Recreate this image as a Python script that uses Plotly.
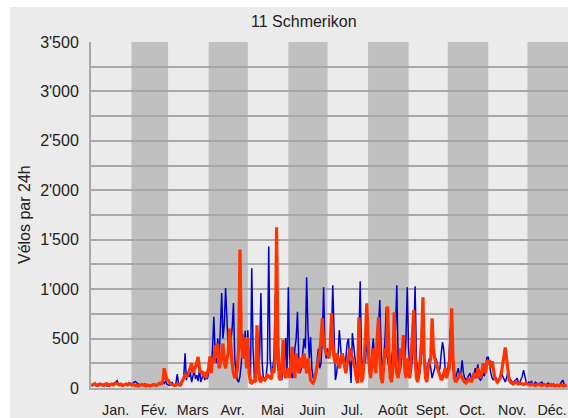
import pandas as pd
import plotly.graph_objects as go

# ---------------- data ----------------
year = 2019
month_labels = ["Jan.", "Fév.", "Mars", "Avr.", "Mai", "Juin",
                "Jul.", "Août", "Sept.", "Oct.", "Nov.", "Déc."]

y_tick_values = list(range(0, 3501, 250))
y_tick_labels = ["0", "", "500", "", "1'000", "", "1'500", "", "2'000", "",
                 "2'500", "", "3'000", "", "3'500"]

# daily counts, series 1 (blue)
blue_values = [
    # Jan
    30, 25, 40, 35, 20, 30, 45, 30, 25, 35, 40, 30, 20, 25, 40, 35, 30, 45, 50, 60,
    75, 40, 30, 35, 25, 30, 40, 35, 30, 45, 50,
    # Feb
    40, 55, 60, 65, 50, 40, 35, 30, 25, 30, 40, 35, 30, 25, 20, 30, 35, 40, 30, 25,
    45, 40, 35, 50, 60, 45, 70, 40,
    # Mar
    30, 25, 40, 60, 30, 20, 50, 140, 40, 30, 25, 60, 120, 350, 80, 150, 110, 160, 60, 120,
    180, 90, 130, 70, 200, 60, 100, 150, 80, 120, 90,
    # Apr
    150, 300, 200, 400, 720, 350, 250, 500, 300, 600, 960, 500, 650, 1010, 700, 400, 350, 450, 600, 860,
    300, 150, 80, 60, 120, 250, 550, 300, 580, 200,
    # May
    585, 200, 50, 1210, 400, 100, 200, 535, 150, 300, 960, 250, 80, 100, 120, 250, 1430, 300, 150, 200,
    300, 940, 400, 200, 150, 100, 80, 300, 200, 505, 150,
    # Jun
    1020, 300, 150, 100, 200, 400, 500, 770, 300, 150, 200, 350, 500, 400, 1120, 600, 300, 515, 200, 100,
    80, 150, 300, 400, 200, 250, 500, 1020, 400, 300,
    # Jul
    400, 300, 350, 500, 1040, 400, 80, 150, 300, 585, 400, 250, 350, 200, 300, 450, 500, 300, 50, 555,
    400, 300, 200, 150, 500, 1080, 300, 150, 400, 250, 500,
    # Aug
    300, 150, 200, 400, 500, 300, 200, 350, 600, 890, 400, 150, 300, 500, 820, 300, 200, 150, 300, 400,
    500, 600, 1040, 300, 150, 200, 400, 300, 200, 500, 1020,
    # Sep
    400, 200, 150, 300, 500, 1030, 300, 150, 100, 200, 350, 400, 300, 200, 150, 250, 300, 200, 100, 150,
    200, 300, 250, 150, 200, 350, 465, 380, 200, 150,
    # Oct
    200, 300, 600, 400, 200, 150, 100, 150, 200, 120, 150, 280, 150, 100, 80, 100, 120, 150, 100, 80,
    120, 200, 150, 240, 100, 80, 100, 150, 120, 200, 310,
    # Nov
    310, 200, 150, 100, 80, 120, 100, 80, 60, 100, 150, 120, 80, 60, 100, 160, 100, 80, 60, 50,
    70, 80, 100, 60, 50, 80, 120, 180, 100, 60,
    # Dec
    40, 60, 50, 70, 40, 30, 60, 50, 40, 30, 50, 60, 40, 30, 25, 40, 50, 30, 20, 30,
    40, 30, 25, 20, 30, 40, 60, 80, 40, 20, 15,
]

# daily counts, series 2 (orange)
orange_values = [
    # Jan
    40, 30, 35, 45, 30, 25, 30, 40, 35, 30, 25, 40, 45, 30, 25, 35, 40, 30, 45, 50,
    45, 35, 30, 40, 25, 30, 35, 40, 30, 45, 40,
    # Feb
    30, 35, 30, 25, 30, 20, 25, 30, 35, 30, 25, 20, 30, 25, 20, 25, 30, 35, 30, 25,
    35, 40, 50, 45, 70, 200, 120, 80,
    # Mar
    80, 50, 40, 35, 30, 25, 30, 40, 35, 30, 50, 70, 100, 140, 110, 130, 180, 200, 250, 150,
    180, 220, 260, 315, 200, 150, 170, 120, 160, 100, 150,
    # Apr
    200, 320, 150, 300, 250, 430, 300, 450, 200, 250, 350, 450, 250, 200, 300, 350, 600, 400, 250, 150,
    100, 120, 200, 400, 1400, 500, 300, 350, 515, 200,
    # May
    515, 150, 60, 50, 70, 80, 60, 635, 300, 80, 60, 100, 90, 80, 100, 130, 120, 110, 90, 200,
    150, 300, 1625, 500, 100, 80, 200, 485, 150, 100, 150,
    # Jun
    200, 100, 300, 415, 200, 100, 350, 250, 150, 300, 280, 200, 350, 250, 150, 300, 200, 80, 60, 50,
    80, 150, 250, 300, 350, 500, 706, 450, 400, 350,
    # Jul
    350, 300, 400, 757, 450, 300, 250, 350, 300, 200, 250, 350, 300, 200, 150, 250, 300, 400, 350, 300,
    250, 200, 100, 50, 716, 200, 60, 100, 300, 500, 857,
    # Aug
    600, 200, 100, 300, 400, 250, 150, 500, 716, 300, 100, 50, 200, 400, 300, 827, 350, 100, 60, 200,
    767, 300, 150, 100, 200, 400, 300, 535, 200, 100, 300,
    # Sep
    150, 100, 300, 500, 787, 300, 100, 60, 150, 300, 500, 918, 300, 100, 60, 200, 250, 300, 706, 400,
    300, 250, 200, 150, 100, 80, 100, 150, 200, 100,
    # Oct
    150, 200, 400, 807, 300, 100, 60, 80, 100, 150, 120, 100, 80, 60, 50, 70, 100, 80, 60, 90,
    150, 120, 100, 200, 150, 100, 150, 250, 200, 150, 280,
    # Nov
    250, 280, 200, 270, 150, 100, 80, 60, 80, 100, 150, 250, 350, 410, 300, 150, 80, 60, 50, 40,
    50, 60, 50, 40, 50, 45, 40, 35, 40, 50,
    # Dec
    40, 35, 30, 40, 35, 30, 25, 30, 35, 40, 30, 25, 30, 35, 30, 20, 25, 30, 35, 30,
    25, 20, 25, 30, 20, 25, 30, 25, 20, 25, 30,
]

# ---------------- figure ----------------
dates = pd.date_range(f"{year}-01-01", f"{year}-12-31", freq="D")
assert len(blue_values) == len(dates), len(blue_values)
assert len(orange_values) == len(dates), len(orange_values)

month_starts = pd.date_range(f"{year}-01-01", periods=13, freq="MS")
tick_pos = [month_starts[i] + (month_starts[i + 1] - month_starts[i]) / 2 + pd.Timedelta(hours=80)
            for i in range(12)]

fig = go.Figure()
fig.add_trace(go.Scatter(x=dates, y=blue_values, mode="lines",
                         line=dict(color="#0000cc", width=1.5), showlegend=False))
fig.add_trace(go.Scatter(x=dates, y=orange_values, mode="lines",
                         line=dict(color="#ff3300", width=3.2), showlegend=False))

font_family = "Liberation Sans, Arial, sans-serif"

W, H = 568, 418
ML, MR, MT, MB = 91, 0, 42, 30
pw = W - ML - MR
ph = H - MT - MB

# light-grey chart background (white strip at top and left)
shapes = [dict(type="rect", xref="paper", yref="paper",
               x0=(10 - ML) / pw, x1=1.05, y0=-0.2, y1=(H - MB - 7) / ph,
               fillcolor="#ebebeb", line_width=0, layer="below")]
for i in range(1, 12, 2):
    shapes.append(dict(type="rect", xref="x", yref="paper",
                       x0=month_starts[i], x1=month_starts[i + 1], y0=0, y1=1,
                       fillcolor="#c0c0c0", line_width=0, layer="between"))

fig.update_layout(
    width=W, height=H,
    margin=dict(l=ML, r=MR, t=MT, b=MB),
    paper_bgcolor="white",
    plot_bgcolor="#ebebeb",
    shapes=shapes,
    font=dict(family=font_family, color="#222222"),
    annotations=[
        dict(text="11 Schmerikon", xref="paper", yref="paper",
             x=(304 - ML) / pw, y=(H - MB - 22) / ph, xanchor="center", yanchor="middle",
             showarrow=False, font=dict(size=16, color="#222222", family=font_family)),
        dict(text="Vélos par 24h", xref="paper", yref="paper",
             x=(24 - ML) / pw, y=0.5, xanchor="center", yanchor="middle", textangle=-90,
             showarrow=False, font=dict(size=16, color="#222222", family=font_family)),
    ],
    xaxis=dict(
        type="date",
        range=[month_starts[0], month_starts[12]],
        tickmode="array", tickvals=tick_pos, ticktext=month_labels,
        ticks="outside", ticklen=8, tickcolor="rgba(0,0,0,0)",
        tickfont=dict(size=14.3, color="#222222"),
        showgrid=False, zeroline=False,
        showline=True, linecolor="#a8a8a8", linewidth=2,
        fixedrange=True,
    ),
    yaxis=dict(
        range=[0, 3500],
        tickmode="array", tickvals=y_tick_values, ticktext=y_tick_labels,
        ticks="outside", ticklen=7, tickcolor="rgba(0,0,0,0)",
        tickfont=dict(size=16, color="#222222"),
        showgrid=True, gridcolor="#a8a8a8", gridwidth=2,
        zeroline=False,
        showline=True, linecolor="#a8a8a8", linewidth=2,
        fixedrange=True,
    ),
)

fig.write_html(
    "out.html",
    config={"displayModeBar": False},
    post_script="document.body.style.margin='0';document.body.style.overflow='hidden';",
)
